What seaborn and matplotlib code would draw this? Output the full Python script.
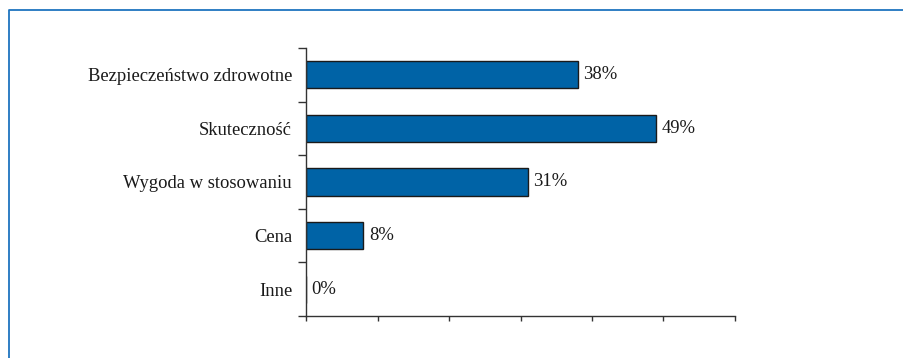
import matplotlib
matplotlib.use("Agg")
import matplotlib.pyplot as plt
from matplotlib.lines import Line2D
import seaborn as sns
import pandas as pd

categories = ["Bezpieczeństwo zdrowotne", "Skuteczność", "Wygoda w stosowaniu", "Cena", "Inne"]
values = [38, 49, 31, 8, 0]
value_labels = ["38%", "49%", "31%", "8%", "0%"]

sns.set_theme(style="white")
plt.rcParams["font.family"] = ["Liberation Serif", "DejaVu Serif"]

W, H = 904, 358
fig = plt.figure(figsize=(W / 100, H / 100), dpi=100)
ax = fig.add_axes([306 / W, 1 - 316 / H, (735 - 306) / W, (316 - 48) / H])

df = pd.DataFrame({"kategoria": categories, "procent": values})
sns.barplot(data=df, x="procent", y="kategoria", orient="h", ax=ax,
            color="#0063a6", saturation=1, width=0.51,
            edgecolor="#1a1a1a", linewidth=1.0)

ax.set_xlim(0, 60)
ax.set_ylim(4.5, -0.5)
ax.set_xlabel("")
ax.set_ylabel("")

# value labels beside each bar
for i, (v, lab) in enumerate(zip(values, value_labels)):
    ax.annotate(lab, xy=(v, i), xytext=(4, 0), textcoords="offset points",
                ha="left", va="center", fontsize=13.4, color="#1a1a1a")

spine_color = "#333333"
for s in ["top", "right"]:
    ax.spines[s].set_visible(False)
for s in ["left", "bottom"]:
    ax.spines[s].set_color(spine_color)
    ax.spines[s].set_linewidth(1.0)

# x axis: ticks only, no labels
ax.set_xticks(range(0, 61, 10))
ax.set_xticklabels([])
ax.tick_params(axis="x", which="major", direction="out", length=3.3,
               width=1.0, color=spine_color, bottom=True)

# y axis: tick marks on category boundaries, labels at category centres
ax.set_yticks([i - 0.5 for i in range(len(categories) + 1)])
ax.set_yticklabels([])
ax.tick_params(axis="y", which="major", direction="out", length=5.5,
               width=1.0, color=spine_color, left=True)
ax.set_yticks(range(len(categories)), minor=True)
ax.set_yticklabels(categories, minor=True, fontsize=13.4, color="#1a1a1a")
ax.tick_params(axis="y", which="minor", length=0, pad=10)

# frame line along the left and top edges of the figure
frame_color = "#1f74bf"
fig.add_artist(Line2D([8.5 / W, 8.5 / W, 1.0], [0.0, 1 - 10 / H, 1 - 10 / H],
                      transform=fig.transFigure, color=frame_color, linewidth=1.3))

fig.savefig("out.png", dpi=100)
